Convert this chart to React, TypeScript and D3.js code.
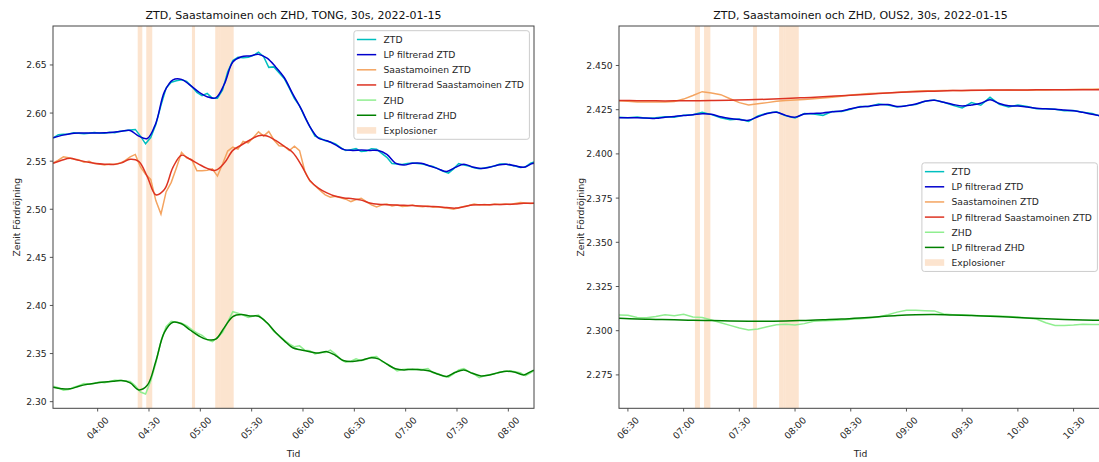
import React from "react";
import * as d3 from "d3";

const FONT = "'DejaVu Sans', sans-serif";

// ---------------- TONG ----------------
const tongTitle = "ZTD, Saastamoinen och ZHD, TONG, 30s, 2022-01-15";
const tongXDomain = ["03:33:54", "08:15:00"];
const tongYDomain = [2.2931, 2.6905];
const tongXTicks = ["04:00", "04:30", "05:00", "05:30", "06:00", "06:30", "07:00", "07:30", "08:00"];
const tongYTicks = [2.3, 2.35, 2.4, 2.45, 2.5, 2.55, 2.6, 2.65];
const tongYFormat = ".2f";
const tongRawStart = "03:34";
const tongRawStep = 3;
const tongLpStart = "03:34";
const tongLpStep = 5;

const tongZtdRaw = [
  2.574, 2.5775, 2.578, 2.5782, 2.5795, 2.579, 2.5785, 2.579, 2.5797, 2.5793,
  2.579, 2.58, 2.5795, 2.581, 2.5815, 2.5825, 2.583, 2.576, 2.568, 2.5745,
  2.588, 2.608, 2.626, 2.632, 2.6335, 2.6345, 2.633, 2.6275, 2.6215, 2.618,
  2.6205, 2.6155, 2.6155, 2.624, 2.643, 2.6545, 2.658, 2.6575, 2.658, 2.66,
  2.6632, 2.6585, 2.6475, 2.648, 2.642, 2.636, 2.626, 2.615, 2.6075, 2.596,
  2.586, 2.576, 2.574, 2.5712, 2.57, 2.568, 2.564, 2.561, 2.562, 2.563,
  2.56, 2.5605, 2.563, 2.5625, 2.558, 2.554, 2.5475, 2.547, 2.5465, 2.5475,
  2.548, 2.5475, 2.547, 2.5455, 2.5445, 2.542, 2.5395, 2.5375, 2.542, 2.5475,
  2.546, 2.545, 2.543, 2.542, 2.543, 2.544, 2.545, 2.547, 2.547, 2.546,
  2.545, 2.5435, 2.544, 2.548, 2.5495,
];
const tongZtdLp = [
  2.5744, 2.5768, 2.5785, 2.5792, 2.5793, 2.5792, 2.5795, 2.58, 2.5812, 2.5818,
  2.576, 2.5735, 2.5895, 2.622, 2.6345, 2.635, 2.629, 2.622, 2.617, 2.6158,
  2.63, 2.653, 2.6585, 2.6594, 2.661, 2.657, 2.648, 2.637, 2.62, 2.604,
  2.586, 2.574, 2.5712, 2.567, 2.562, 2.5612, 2.5615, 2.5612, 2.561, 2.557,
  2.548, 2.546, 2.5478, 2.5478, 2.545, 2.542, 2.5392, 2.5435, 2.5468, 2.544,
  2.5425, 2.5437, 2.546, 2.5468, 2.5452, 2.5437, 2.5475, 2.549,
];
const tongSaastRaw = [
  2.548, 2.551, 2.5545, 2.5535, 2.552, 2.5515, 2.549, 2.55, 2.5475, 2.547,
  2.546, 2.547, 2.5465, 2.548, 2.5505, 2.5545, 2.557, 2.544, 2.5365, 2.531,
  2.509, 2.495, 2.518, 2.528, 2.543, 2.559, 2.5535, 2.5515, 2.54, 2.54,
  2.5405, 2.542, 2.5345, 2.547, 2.5605, 2.5645, 2.5625, 2.5705, 2.569, 2.5745,
  2.5805, 2.576, 2.581, 2.572, 2.566, 2.5655, 2.561, 2.5655, 2.561, 2.54,
  2.5294, 2.5245, 2.5195, 2.515, 2.5125, 2.5135, 2.512, 2.5105, 2.508, 2.51,
  2.5115, 2.508, 2.5045, 2.5025, 2.5045, 2.5055, 2.5035, 2.5045, 2.503, 2.5035,
  2.5045, 2.503, 2.5025, 2.5035, 2.502, 2.5025, 2.5015, 2.501, 2.5, 2.5015,
  2.503, 2.504, 2.5055, 2.5045, 2.505, 2.5045, 2.5055, 2.505, 2.5055, 2.505,
  2.506, 2.507, 2.5065, 2.506, 2.5065,
];
const tongSaastLp = [
  2.5478, 2.551, 2.553, 2.5508, 2.549, 2.5475, 2.5468, 2.5466, 2.5482, 2.552,
  2.5498, 2.534, 2.515, 2.5205, 2.5435, 2.5562, 2.552, 2.547, 2.5425, 2.5405,
  2.548, 2.5612, 2.5668, 2.572, 2.5765, 2.5762, 2.5715, 2.5655, 2.559, 2.546,
  2.53, 2.522, 2.517, 2.5135, 2.5118, 2.511, 2.5095, 2.5065, 2.5052, 2.5048,
  2.5045, 2.5041, 2.5038, 2.5035, 2.503, 2.5027, 2.5018, 2.5012, 2.5027, 2.5045,
  2.5048, 2.5048, 2.505, 2.5051, 2.5055, 2.5062, 2.5062, 2.5064,
];
const tongZhdRaw = [
  2.316, 2.3145, 2.312, 2.3125, 2.315, 2.3165, 2.3188, 2.318, 2.3192, 2.3205,
  2.3198, 2.321, 2.3222, 2.322, 2.3215, 2.321, 2.3165, 2.31, 2.308, 2.3215,
  2.34, 2.363, 2.378, 2.3835, 2.3825, 2.3815, 2.379, 2.375, 2.3715, 2.369,
  2.3645, 2.3625, 2.3665, 2.372, 2.383, 2.3935, 2.392, 2.39, 2.3875, 2.389,
  2.39, 2.385, 2.38, 2.373, 2.369, 2.364, 2.36, 2.357, 2.358, 2.3535,
  2.353, 2.3495, 2.351, 2.351, 2.3535, 2.3495, 2.344, 2.341, 2.342, 2.3445,
  2.3425, 2.344, 2.3465, 2.347, 2.342, 2.3395, 2.336, 2.332, 2.3335, 2.334,
  2.333, 2.334, 2.3335, 2.3345, 2.33, 2.329, 2.3265, 2.3255, 2.329, 2.333,
  2.3345, 2.331, 2.3285, 2.325, 2.327, 2.328, 2.329, 2.3305, 2.3315, 2.332,
  2.331, 2.33, 2.327, 2.33, 2.3335,
];
const tongZhdLp = [
  2.315, 2.3135, 2.3133, 2.316, 2.318, 2.3193, 2.3205, 2.3213, 2.3219, 2.3195,
  2.3122, 2.317, 2.342, 2.372, 2.3825, 2.381, 2.3745, 2.3685, 2.3645, 2.365,
  2.377, 2.3885, 2.3905, 2.389, 2.3888, 2.382, 2.372, 2.3635, 2.356, 2.3538,
  2.352, 2.3505, 2.352, 2.348, 2.3425, 2.3418, 2.343, 2.3455, 2.3445, 2.339,
  2.3342, 2.333, 2.3337, 2.333, 2.3319, 2.3285, 2.3262, 2.3305, 2.333, 2.3295,
  2.3268, 2.3278, 2.33, 2.3316, 2.3305, 2.3278, 2.332, 2.3345,
];
const tongExplosions = [
  ["04:23:24", "04:26:06"],
  ["04:28:24", "04:31:54"],
  ["04:55:06", "04:56:54"],
  ["05:08:42", "05:10:30"],
  ["05:10:30", "05:12:00"],
  ["05:12:00", "05:19:30"],
];

// ---------------- OUS2 ----------------
const ous2Title = "ZTD, Saastamoinen och ZHD, OUS2, 30s, 2022-01-15";
const ous2XDomain = ["06:25:12", "10:45:18"];
const ous2YDomain = [2.25611, 2.47234];
const ous2XTicks = ["06:30", "07:00", "07:30", "08:00", "08:30", "09:00", "09:30", "10:00", "10:30"];
const ous2YTicks = [2.275, 2.3, 2.325, 2.35, 2.375, 2.4, 2.425, 2.45];
const ous2YFormat = ".3f";
const ous2RawStart = "06:25";
const ous2RawStep = 5;
const ous2ZtdLpStart = "06:25";
const ous2ZtdLpStep = 5;
const ous2SmoothLpStart = "06:25";
const ous2SmoothLpStep = 10;

const ous2ZtdRaw = [
  2.4208, 2.4205, 2.4208, 2.4202, 2.4204, 2.421, 2.4208, 2.4218, 2.4222, 2.4236,
  2.4222, 2.4205, 2.4193, 2.4197, 2.4184, 2.4215, 2.423, 2.4238, 2.4215, 2.4203,
  2.4228, 2.4225, 2.4218, 2.424, 2.424, 2.4252, 2.4268, 2.4268, 2.4282, 2.4276,
  2.4265, 2.4273, 2.428, 2.4298, 2.4305, 2.4292, 2.4275, 2.426, 2.429, 2.4275,
  2.432, 2.428, 2.4265, 2.4276, 2.4268, 2.4256, 2.4255, 2.4252, 2.4244, 2.4246,
  2.4235, 2.4228, 2.4212,
];
const ous2ZtdLp = [
  2.4205, 2.4205, 2.4205, 2.4203, 2.4201, 2.4207, 2.4212, 2.4217, 2.4221, 2.4227,
  2.4224, 2.421, 2.42, 2.4194, 2.419, 2.421, 2.4228, 2.4235, 2.4218, 2.4208,
  2.4226, 2.4229, 2.4232, 2.4238, 2.4243, 2.4255, 2.4265, 2.427, 2.4277, 2.4279,
  2.4268, 2.4272, 2.4282, 2.4298, 2.4304, 2.4292, 2.428, 2.4271, 2.4277, 2.4286,
  2.4306, 2.4285, 2.4272, 2.4271, 2.4265, 2.4258, 2.4255, 2.4252, 2.4248, 2.4244,
  2.4235, 2.4224, 2.4214,
];
const ous2SaastRaw = [
  2.43, 2.4298, 2.4294, 2.4293, 2.4293, 2.4294, 2.4297, 2.431, 2.433, 2.4352,
  2.4345, 2.4335, 2.4312, 2.429, 2.4277, 2.4283, 2.429, 2.4298, 2.4302, 2.4305,
  2.4308, 2.4312, 2.4316, 2.432, 2.4326, 2.4333, 2.4338, 2.4341, 2.4343, 2.4345,
  2.4348, 2.4352, 2.4356, 2.4357, 2.4357, 2.4358, 2.4358, 2.4357, 2.4358, 2.436,
  2.436, 2.436, 2.4361, 2.436, 2.436, 2.4361, 2.4362, 2.4363, 2.4363, 2.4364,
  2.4365, 2.4366, 2.4368,
];
const ous2SaastLp = [
  2.4302, 2.4301, 2.43, 2.43, 2.4301, 2.4302, 2.4304, 2.4306, 2.4309, 2.4313,
  2.4318, 2.4323, 2.4329, 2.4335, 2.4341, 2.4347, 2.4352, 2.4355, 2.4358, 2.436,
  2.4361, 2.4362, 2.4362, 2.4363, 2.4363, 2.4363, 2.4363,
];
const ous2ZhdRaw = [
  2.3089, 2.3087, 2.3075, 2.3073, 2.308, 2.309, 2.3085, 2.3093, 2.3078, 2.3075,
  2.306, 2.3045, 2.303, 2.3015, 2.3004, 2.301, 2.3022, 2.3034, 2.3037, 2.3032,
  2.304, 2.3054, 2.3056, 2.3058, 2.306, 2.3065, 2.3068, 2.3072, 2.3078, 2.309,
  2.3105, 2.3115, 2.3115, 2.3113, 2.3112, 2.3095, 2.309, 2.309, 2.3088, 2.3085,
  2.3085, 2.3083, 2.308, 2.3078, 2.3072, 2.3066, 2.3045, 2.303, 2.303, 2.3032,
  2.3036, 2.3035, 2.3035,
];
const ous2ZhdLp = [
  2.307, 2.3066, 2.3064, 2.3062, 2.3059, 2.3057, 2.3055, 2.3054, 2.3054, 2.3055,
  2.3058, 2.3062, 2.3066, 2.3072, 2.3079, 2.3086, 2.309, 2.3091, 2.3089, 2.3086,
  2.3082, 2.3077, 2.3072, 2.3067, 2.3063, 2.306, 2.3059,
];
const ous2Explosions = [
  ["07:06:06", "07:08:48"],
  ["07:11:00", "07:14:24"],
  ["07:37:24", "07:39:30"],
  ["07:51:24", "07:53:42"],
  ["07:53:42", "07:55:00"],
  ["07:55:00", "08:02:00"],
];

const legendLabels = [
  "ZTD",
  "LP filtrerad ZTD",
  "Saastamoinen ZTD",
  "LP filtrerad Saastamoinen ZTD",
  "ZHD",
  "LP filtrerad ZHD",
  "Explosioner",
];
const xLabel = "Tid";
const yLabel = "Zenit Fördröjning";

// ---------------- styles ----------------
const COLORS = {
  ztd: "#00bfbf",
  ztdLp: "#0000cd",
  saast: "#f4a460",
  saastLp: "#dd3322",
  zhd: "#90ee90",
  zhdLp: "#008000",
  expl: "#f4a460",
};
const legendColors = [COLORS.ztd, COLORS.ztdLp, COLORS.saast, COLORS.saastLp, COLORS.zhd, COLORS.zhdLp, COLORS.expl];

function toMin(s: string): number {
  const p = s.split(":").map(Number);
  return p[0] * 60 + p[1] + (p[2] || 0) / 60;
}
function fmtMin(m: number): string {
  const h = Math.floor(m / 60);
  const mm = Math.round(m - h * 60);
  return `${String(h).padStart(2, "0")}:${String(mm).padStart(2, "0")}`;
}
function series(start: string, step: number, values: number[]) {
  const t0 = toMin(start);
  return values.map((v, i) => ({ t: t0 + i * step, v }));
}

type PanelProps = {
  id: string;
  box: { left: number; right: number; top: number; bottom: number };
  title: string;
  xDomain: string[];
  yDomain: number[];
  xTicks: string[];
  yTicks: number[];
  yFormat: string;
  raw: { ztd: any[]; saast: any[]; zhd: any[] };
  lp: { ztd: any[]; saast: any[]; zhd: any[] };
  explosions: string[][];
  legend: "upper right" | "center right";
  yLabelX: number;
};

function Panel(p: PanelProps) {
  const { box } = p;
  const x = d3.scaleLinear().domain(p.xDomain.map(toMin)).range([box.left, box.right]);
  const y = d3.scaleLinear().domain(p.yDomain).range([box.bottom, box.top]);
  const rawLine = d3
    .line<any>()
    .x((d) => x(d.t))
    .y((d) => y(d.v));
  const lpLine = d3
    .line<any>()
    .x((d) => x(d.t))
    .y((d) => y(d.v))
    .curve(d3.curveCatmullRom.alpha(0.5));
  const fmt = d3.format(p.yFormat);
  const cx = (box.left + box.right) / 2;
  const cy = (box.top + box.bottom) / 2;
  const fs = 9.2;
  // rotated tick label bbox (text width ~26.5, height ~10.7)
  const rotH = (26.5 + 10.7) * Math.SQRT1_2;
  const labY = box.bottom + 6.4 + rotH / 2;

  const legW = 175.5;
  const legH = 108.6;
  const legX = box.right - 4.6 - legW;
  const legY = p.legend === "upper right" ? box.top + 4.7 : cy - legH / 2;

  const clipId = `clip-${p.id}`;
  return (
    <g>
      <defs>
        <clipPath id={clipId}>
          <rect x={box.left} y={box.top} width={box.right - box.left} height={box.bottom - box.top} />
        </clipPath>
      </defs>
      <g clipPath={`url(#${clipId})`}>
        {p.explosions.map(([a, b], i) => (
          <rect
            key={i}
            x={x(toMin(a))}
            width={x(toMin(b)) - x(toMin(a))}
            y={box.top}
            height={box.bottom - box.top}
            fill={COLORS.expl}
            fillOpacity={0.3}
          />
        ))}
        <path d={rawLine(p.raw.ztd) || ""} fill="none" stroke={COLORS.ztd} strokeWidth={1.5} />
        <path d={lpLine(p.lp.ztd) || ""} fill="none" stroke={COLORS.ztdLp} strokeWidth={1.5} />
        <path d={rawLine(p.raw.saast) || ""} fill="none" stroke={COLORS.saast} strokeWidth={1.5} />
        <path d={lpLine(p.lp.saast) || ""} fill="none" stroke={COLORS.saastLp} strokeWidth={1.5} />
        <path d={rawLine(p.raw.zhd) || ""} fill="none" stroke={COLORS.zhd} strokeWidth={1.5} />
        <path d={lpLine(p.lp.zhd) || ""} fill="none" stroke={COLORS.zhdLp} strokeWidth={1.5} />
      </g>
      <rect
        x={box.left}
        y={box.top}
        width={box.right - box.left}
        height={box.bottom - box.top}
        fill="none"
        stroke="#444"
        strokeWidth={1}
      />
      {p.yTicks.map((t) => (
        <g key={t}>
          <line x1={box.left - 3.2} x2={box.left} y1={y(t)} y2={y(t)} stroke="#444" strokeWidth={0.9} />
          <text x={box.left - 6.4} y={y(t)} textAnchor="end" dominantBaseline="central" fontSize={fs} fill="#262626">
            {fmt(t)}
          </text>
        </g>
      ))}
      {p.xTicks.map((t) => {
        const xx = x(toMin(t));
        return (
          <g key={t}>
            <line x1={xx} x2={xx} y1={box.bottom} y2={box.bottom + 3.2} stroke="#444" strokeWidth={0.9} />
            <text
              transform={`translate(${xx},${labY}) rotate(-45)`}
              textAnchor="middle"
              dominantBaseline="central"
              fontSize={fs}
              fill="#262626"
            >
              {fmtMin(toMin(t))}
            </text>
          </g>
        );
      })}
      <text x={cx} y={15} textAnchor="middle" dominantBaseline="central" fontSize={11} fill="#111">
        {p.title}
      </text>
      <text x={cx} y={453.3} textAnchor="middle" dominantBaseline="central" fontSize={fs} fill="#262626">
        {xLabel}
      </text>
      <text
        transform={`translate(${p.yLabelX},${cy}) rotate(-90)`}
        textAnchor="middle"
        dominantBaseline="central"
        fontSize={fs}
        fill="#262626"
      >
        {yLabel}
      </text>
      <g>
        <rect x={legX} y={legY} width={legW} height={legH} rx={2.5} fill="#fff" fillOpacity={0.8} stroke="#cccccc" strokeWidth={1} />
        {legendLabels.map((lab, i) => {
          const ry = legY + 8.8 + 15.15 * i;
          const col = legendColors[i];
          return (
            <g key={lab}>
              {i < 6 ? (
                <line x1={legX + 3} x2={legX + 22.3} y1={ry} y2={ry} stroke={col} strokeWidth={1.5} />
              ) : (
                <rect x={legX + 3} y={ry - 3.3} width={19.3} height={6.6} fill={col} fillOpacity={0.3} />
              )}
              <text x={legX + 29.6} y={ry} dominantBaseline="central" fontSize={fs} fill="#262626">
                {lab}
              </text>
            </g>
          );
        })}
      </g>
    </g>
  );
}

export default function App() {
  const tong = {
    raw: {
      ztd: series(tongRawStart, tongRawStep, tongZtdRaw),
      saast: series(tongRawStart, tongRawStep, tongSaastRaw),
      zhd: series(tongRawStart, tongRawStep, tongZhdRaw),
    },
    lp: {
      ztd: series(tongLpStart, tongLpStep, tongZtdLp),
      saast: series(tongLpStart, tongLpStep, tongSaastLp),
      zhd: series(tongLpStart, tongLpStep, tongZhdLp),
    },
  };
  const ous2 = {
    raw: {
      ztd: series(ous2RawStart, ous2RawStep, ous2ZtdRaw),
      saast: series(ous2RawStart, ous2RawStep, ous2SaastRaw),
      zhd: series(ous2RawStart, ous2RawStep, ous2ZhdRaw),
    },
    lp: {
      ztd: series(ous2ZtdLpStart, ous2ZtdLpStep, ous2ZtdLp),
      saast: series(ous2SmoothLpStart, ous2SmoothLpStep, ous2SaastLp),
      zhd: series(ous2SmoothLpStart, ous2SmoothLpStep, ous2ZhdLp),
    },
  };
  return (
    <svg
      width={1099}
      height={462}
      style={{ position: "absolute", left: 0, top: 0, display: "block", background: "#fff" }}
      fontFamily={FONT}
    >
      <rect x={0} y={0} width={1099} height={462} fill="#fff" />
      <Panel
        id="tong"
        box={{ left: 53, right: 534, top: 26, bottom: 408.3 }}
        title={tongTitle}
        xDomain={tongXDomain}
        yDomain={tongYDomain}
        xTicks={tongXTicks}
        yTicks={tongYTicks}
        yFormat={tongYFormat}
        raw={tong.raw}
        lp={tong.lp}
        explosions={tongExplosions}
        legend="upper right"
        yLabelX={16}
      />
      <Panel
        id="ous2"
        box={{ left: 619, right: 1102, top: 26, bottom: 408.3 }}
        title={ous2Title}
        xDomain={ous2XDomain}
        yDomain={ous2YDomain}
        xTicks={ous2XTicks}
        yTicks={ous2YTicks}
        yFormat={ous2YFormat}
        raw={ous2.raw}
        lp={ous2.lp}
        explosions={ous2Explosions}
        legend="center right"
        yLabelX={580}
      />
    </svg>
  );
}
